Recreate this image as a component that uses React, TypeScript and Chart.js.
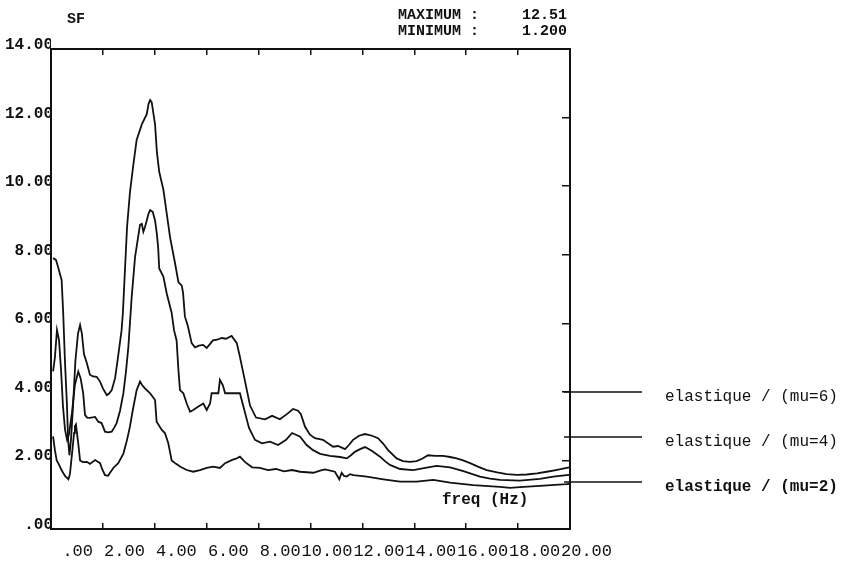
import { useEffect, useRef } from "react";
import { Chart, registerables } from "chart.js";

Chart.register(...registerables);

// Spectral ratio SF versus frequency (Hz), three elastic cases
const mu6Freq = [0.08, 0.19, 0.27, 0.41, 0.47, 0.54, 0.61, 0.66, 0.71, 0.77, 0.85, 0.94, 1.04, 1.12, 1.19, 1.27, 1.38, 1.5, 1.62, 1.76, 1.89, 2.0, 2.15, 2.24, 2.34, 2.47, 2.58, 2.72, 2.77, 2.93, 3.04, 3.16, 3.3, 3.5, 3.69, 3.76, 3.82, 3.88, 4.01, 4.08, 4.17, 4.33, 4.46, 4.59, 4.78, 4.91, 5.04, 5.09, 5.16, 5.28, 5.42, 5.55, 5.7, 5.86, 6.0, 6.13, 6.24, 6.4, 6.58, 6.74, 6.96, 7.16, 7.28, 7.48, 7.67, 7.9, 8.25, 8.52, 8.82, 9.09, 9.33, 9.52, 9.63, 9.79, 9.98, 10.17, 10.48, 10.87, 11.06, 11.33, 11.48, 11.64, 11.87, 12.1, 12.37, 12.6, 12.79, 12.99, 13.32, 13.56, 13.83, 14.09, 14.3, 14.53, 14.8, 15.11, 15.38, 15.63, 15.88, 16.15, 16.45, 16.79, 17.19, 17.56, 17.96, 18.33, 18.73, 19.1, 19.46, 19.87, 20.0];
const mu6Sf = [7.9, 7.85, 7.65, 7.26, 6.3, 4.85, 3.7, 2.6, 2.15, 2.6, 3.6, 4.9, 5.7, 5.95, 5.7, 5.1, 4.84, 4.5, 4.45, 4.44, 4.3, 4.1, 3.9, 3.95, 4.05, 4.4, 5.0, 5.8, 6.3, 8.8, 9.8, 10.55, 11.35, 11.8, 12.1, 12.4, 12.51, 12.45, 11.8, 11.0, 10.42, 9.9, 9.2, 8.5, 7.75, 7.2, 7.1, 6.88, 6.2, 5.9, 5.42, 5.3, 5.35, 5.37, 5.28, 5.4, 5.5, 5.52, 5.57, 5.55, 5.63, 5.42, 5.02, 4.3, 3.6, 3.25, 3.2, 3.3, 3.2, 3.35, 3.5, 3.45, 3.35, 2.98, 2.75, 2.65, 2.6, 2.4, 2.42, 2.33, 2.45, 2.6, 2.72, 2.77, 2.72, 2.65, 2.5, 2.3, 2.06, 1.98, 1.96, 1.98, 2.05, 2.15, 2.13, 2.13, 2.1, 2.06, 2.0, 1.92, 1.82, 1.72, 1.65, 1.6, 1.58, 1.59, 1.62, 1.67, 1.72, 1.78, 1.8];

const mu4Freq = [0.08, 0.15, 0.23, 0.31, 0.39, 0.46, 0.54, 0.62, 0.69, 0.81, 0.92, 1.05, 1.14, 1.24, 1.31, 1.39, 1.5, 1.7, 1.82, 1.95, 2.08, 2.2, 2.34, 2.43, 2.53, 2.66, 2.79, 2.89, 2.98, 3.11, 3.24, 3.36, 3.43, 3.5, 3.56, 3.62, 3.69, 3.76, 3.82, 3.92, 4.01, 4.08, 4.13, 4.17, 4.33, 4.46, 4.65, 4.74, 4.84, 4.91, 4.97, 5.1, 5.23, 5.36, 5.48, 5.68, 5.87, 6.0, 6.13, 6.19, 6.45, 6.51, 6.62, 6.71, 7.28, 7.44, 7.63, 7.86, 8.13, 8.44, 8.75, 9.06, 9.29, 9.44, 9.6, 9.85, 10.1, 10.37, 10.75, 11.14, 11.4, 11.56, 11.71, 11.91, 12.1, 12.36, 12.68, 12.87, 13.06, 13.45, 13.96, 14.48, 14.86, 15.38, 15.89, 16.53, 16.92, 17.3, 18.07, 18.84, 19.36, 19.87, 20.0];
const mu4Sf = [4.6, 5.0, 5.8, 5.5, 4.6, 3.6, 2.9, 2.6, 2.75, 3.4, 4.2, 4.59, 4.4, 3.96, 3.33, 3.25, 3.24, 3.27, 3.13, 3.09, 2.84, 2.82, 2.84, 2.95, 3.09, 3.45, 3.96, 4.6, 5.3, 6.77, 7.94, 8.53, 8.87, 8.9, 8.67, 8.8, 9.0, 9.2, 9.3, 9.25, 9.0, 8.6, 8.2, 7.6, 7.36, 6.87, 6.3, 5.8, 5.5, 4.64, 4.05, 3.96, 3.66, 3.42, 3.47, 3.57, 3.66, 3.47, 3.66, 3.96, 3.96, 4.35, 4.2, 3.96, 3.96, 3.5, 2.95, 2.6, 2.5, 2.55, 2.45, 2.6, 2.8, 2.75, 2.69, 2.45, 2.3, 2.19, 2.13, 2.1, 2.06, 2.15, 2.25, 2.33, 2.39, 2.28, 2.11, 1.98, 1.87, 1.75, 1.72, 1.79, 1.84, 1.8, 1.69, 1.53, 1.47, 1.43, 1.41, 1.46, 1.53, 1.57, 1.58];

const mu2Freq = [0.08, 0.15, 0.22, 0.28, 0.42, 0.54, 0.67, 0.73, 0.81, 0.89, 0.92, 0.96, 1.05, 1.12, 1.23, 1.38, 1.5, 1.7, 1.89, 1.97, 2.08, 2.2, 2.27, 2.4, 2.59, 2.79, 2.93, 3.04, 3.16, 3.3, 3.43, 3.51, 3.62, 3.82, 4.01, 4.07, 4.27, 4.39, 4.52, 4.65, 4.82, 4.97, 5.23, 5.48, 5.74, 6.0, 6.25, 6.51, 6.71, 6.96, 7.13, 7.28, 7.48, 7.75, 8.05, 8.36, 8.67, 8.98, 9.29, 9.6, 10.11, 10.37, 10.56, 10.94, 11.11, 11.2, 11.29, 11.4, 11.52, 11.65, 12.17, 12.81, 13.45, 14.09, 14.73, 15.38, 16.27, 17.3, 17.69, 18.07, 18.84, 19.87, 20.0];
const mu2Sf = [2.7, 2.3, 2.0, 1.92, 1.7, 1.55, 1.45, 1.6, 2.2, 2.8, 3.0, 3.05, 2.5, 2.0, 1.95, 1.96, 1.9, 2.01, 1.92, 1.75, 1.57, 1.55, 1.63, 1.78, 1.92, 2.2, 2.6, 2.98, 3.5, 4.05, 4.3, 4.2, 4.1, 3.96, 3.76, 3.13, 2.89, 2.8, 2.5, 2.0, 1.9, 1.82, 1.72, 1.67, 1.72, 1.78, 1.82, 1.78, 1.92, 2.01, 2.05, 2.11, 1.95, 1.8, 1.78, 1.72, 1.75, 1.68, 1.72, 1.67, 1.64, 1.7, 1.74, 1.67, 1.45, 1.64, 1.55, 1.53, 1.6, 1.57, 1.53, 1.45, 1.38, 1.38, 1.43, 1.35, 1.28, 1.23, 1.2, 1.22, 1.26, 1.31, 1.32];

const seriesLabels = ["elastique / (mu=6)", "elastique / (mu=4)", "elastique / (mu=2)"];

const freqTicks = [0, 2, 4, 6, 8, 10, 12, 14, 16, 18, 20];
const freqTickLabels = [".00", "2.00", "4.00", "6.00", "8.00", "10.00", "12.00", "14.00", "16.00", "18.00", "20.00"];
const sfTicks = [0, 2, 4, 6, 8, 10, 12, 14];
const sfTickLabels = [".00", "2.00", "4.00", "6.00", "8.00", "10.00", "12.00", "14.00"];

const MONO = '"Liberation Mono", "Courier New", monospace';
const INK = "#111";

const toPoints = (xs: number[], ys: number[]) => xs.map((x, i) => ({ x, y: ys[i] }));

// Header, axis caption and the right-hand legend
const sfAnnotations = {
  id: "sfAnnotations",
  afterDraw(chart: any) {
    const { ctx } = chart;
    const all = [...mu6Sf, ...mu4Sf, ...mu2Sf];
    const maxText = Math.max(...all).toFixed(2);
    const minText = Math.min(...all).toFixed(3);
    ctx.save();
    ctx.fillStyle = INK;
    ctx.strokeStyle = INK;
    ctx.textBaseline = "middle";

    ctx.font = `bold 15px ${MONO}`;
    ctx.textAlign = "left";
    ctx.fillText("SF", 67, 19);
    ctx.fillText("MAXIMUM :", 398, 15);
    ctx.fillText("MINIMUM :", 398, 31);
    ctx.textAlign = "right";
    ctx.fillText(maxText, 567, 15);
    ctx.fillText(minText, 567, 31);

    ctx.textAlign = "left";
    ctx.font = `bold 16px ${MONO}`;
    ctx.fillText("freq (Hz)", 442, 500);

    chart.data.datasets.forEach((ds: any, i: number) => {
      const y = 392 + i * 45;
      ctx.lineWidth = 1.6;
      ctx.beginPath();
      ctx.moveTo(564, y);
      ctx.lineTo(642, y);
      ctx.stroke();
      ctx.font = `${i === 2 ? "bold " : ""}16px ${MONO}`;
      ctx.fillText(ds.label, 665, y + 5);
    });
    ctx.restore();
  },
};

export default function App() {
  const canvasRef = useRef<HTMLCanvasElement | null>(null);

  useEffect(() => {
    if (!canvasRef.current) return;
    const lineStyle = {
      borderColor: INK,
      borderWidth: 1.8,
      pointRadius: 0,
      tension: 0,
      fill: false,
    };
    const frameAxis = {
      type: "linear" as const,
      ticks: { display: false, stepSize: 2 },
      border: { display: true, color: INK, width: 2 },
    };
    const chart = new Chart(canvasRef.current, {
      type: "line",
      data: {
        datasets: [
          { label: seriesLabels[0], data: toPoints(mu6Freq, mu6Sf), ...lineStyle },
          { label: seriesLabels[1], data: toPoints(mu4Freq, mu4Sf), ...lineStyle },
          { label: seriesLabels[2], data: toPoints(mu2Freq, mu2Sf), ...lineStyle },
        ],
      },
      plugins: [sfAnnotations],
      options: {
        animation: false,
        responsive: false,
        layout: { padding: { left: 0, top: 49, right: 276, bottom: 0 } },
        plugins: { legend: { display: false }, tooltip: { enabled: false } },
        scales: {
          x: {
            ...frameAxis,
            position: "bottom",
            min: 0,
            max: 20,
            grid: { drawOnChartArea: false, drawTicks: true, tickLength: -6, color: INK, lineWidth: 1.5 },
            afterFit: (s: any) => { s.height = 0; },
          },
          xTop: {
            ...frameAxis,
            axis: "x",
            position: "top",
            min: 0,
            max: 20,
            grid: { drawOnChartArea: false, drawTicks: true, tickLength: -6, color: INK, lineWidth: 1.5 },
            afterFit: (s: any) => { s.height = 0; },
          },
          xLabels: {
            type: "linear",
            axis: "x",
            position: "bottom",
            min: -42 / 25.95,
            max: 20 - 42 / 25.95,
            grid: { display: false, drawTicks: false },
            border: { display: false },
            afterBuildTicks: (s: any) => { s.ticks = freqTicks.map((value) => ({ value })); },
            ticks: {
              align: "end",
              autoSkip: false,
              maxRotation: 0,
              minRotation: 0,
              padding: 12,
              color: INK,
              font: { family: MONO, size: 17 },
              callback: (_v: any, i: number) => freqTickLabels[i],
            },
            afterFit: (s: any) => { s.height = 34; },
          },
          y: {
            ...frameAxis,
            position: "left",
            min: 0,
            max: 14,
            grid: { drawOnChartArea: false, drawTicks: false },
            afterFit: (s: any) => { s.width = 0; },
          },
          yRight: {
            ...frameAxis,
            axis: "y",
            position: "right",
            min: 0,
            max: 14,
            grid: { drawOnChartArea: false, drawTicks: true, tickLength: -8, color: INK, lineWidth: 1.5 },
            afterFit: (s: any) => { s.width = 0; },
          },
          yLabels: {
            type: "linear",
            axis: "y",
            position: "left",
            min: -4 * 14 / 480,
            max: 14 - 4 * 14 / 480,
            grid: { display: false, drawTicks: false },
            border: { display: false },
            afterBuildTicks: (s: any) => { s.ticks = sfTicks.map((value) => ({ value })); },
            ticks: {
              autoSkip: false,
              padding: -2,
              color: INK,
              font: { family: MONO, size: 16, weight: "bold" },
              callback: (_v: any, i: number) => sfTickLabels[i],
            },
            afterFit: (s: any) => { s.width = 51; },
          },
        },
      } as any,
    });
    return () => chart.destroy();
  }, []);

  return (
    <div style={{ position: "absolute", left: 0, top: 0, width: 846, height: 563, background: "#fff" }}>
      <canvas ref={canvasRef} width={846} height={563} />
    </div>
  );
}
